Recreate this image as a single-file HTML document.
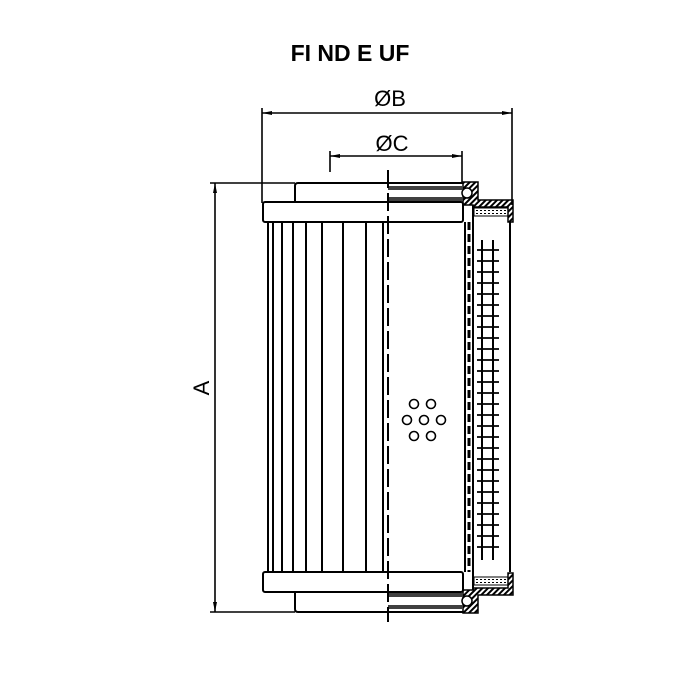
<!DOCTYPE html>
<html><head><meta charset="utf-8"><style>body{margin:0;background:#fff}svg{display:block}</style></head>
<body>
<svg width="700" height="700" viewBox="0 0 700 700" xmlns="http://www.w3.org/2000/svg">
<defs>
<pattern id="h" width="4" height="4" patternUnits="userSpaceOnUse" patternTransform="rotate(45)"><rect width="2" height="4" fill="#000"/></pattern>
<pattern id="d" width="4" height="3" patternUnits="userSpaceOnUse"><rect width="2" height="1" fill="#000"/></pattern>
</defs>
<text x="350" y="61" font-family="Liberation Sans, sans-serif" font-weight="bold" font-size="23" text-anchor="middle">FI ND E UF</text>
<g stroke="#000" fill="none" stroke-width="1.6">
<line x1="262" y1="113" x2="512" y2="113"/>
<line x1="262" y1="108" x2="262" y2="203"/>
<line x1="512" y1="108" x2="512" y2="205"/>
<line x1="330" y1="156" x2="462" y2="156"/>
<line x1="330" y1="151" x2="330" y2="172"/>
<line x1="462" y1="151" x2="462" y2="183"/>
<line x1="215" y1="183" x2="215" y2="612"/>
<line x1="210" y1="183" x2="295" y2="183"/>
<line x1="210" y1="612" x2="295" y2="612"/>
<line x1="388" y1="172" x2="388" y2="183"/>
</g>
<g fill="#000">
<polygon points="262,113 272,111 272,115"/><polygon points="512,113 502,111 502,115"/>
<polygon points="330,156 340,154 340,158"/><polygon points="462,156 452,154 452,158"/>
<polygon points="215,183 213,193 217,193"/><polygon points="215,612 213,602 217,602"/>
</g>
<text x="390" y="106" font-family="Liberation Sans, sans-serif" font-size="22" text-anchor="middle">ØB</text>
<text x="392" y="151" font-family="Liberation Sans, sans-serif" font-size="22" text-anchor="middle">ØC</text>
<text x="209" y="388" font-family="Liberation Sans, sans-serif" font-size="22" text-anchor="middle" transform="rotate(-90 209 388)">A</text>
<g stroke="#000" fill="none" stroke-width="2">
<path d="M295,202 V186 Q295,183 298,183 H463"/>
<rect x="263" y="202" width="200" height="20" rx="2"/>
<rect x="263" y="572" width="200" height="20" rx="2"/>
<path d="M295,592 V609 Q295,612 298,612 H463"/>
<g stroke-width="1.5">
<line x1="388" y1="187" x2="462" y2="187"/><line x1="388" y1="189" x2="462" y2="189"/>
<line x1="388" y1="198" x2="462" y2="198"/><line x1="388" y1="200" x2="462" y2="200"/>
<line x1="388" y1="594" x2="462" y2="594"/><line x1="388" y1="596" x2="462" y2="596"/>
<line x1="388" y1="606" x2="462" y2="606"/><line x1="388" y1="608" x2="462" y2="608"/>
</g>
<line x1="268" y1="222" x2="268" y2="572"/><line x1="273" y1="222" x2="273" y2="572"/>
<line x1="282" y1="222" x2="282" y2="572"/><line x1="293" y1="222" x2="293" y2="572"/>
<line x1="306" y1="222" x2="306" y2="572"/><line x1="322" y1="222" x2="322" y2="572"/>
<line x1="343" y1="222" x2="343" y2="572"/><line x1="366" y1="222" x2="366" y2="572"/>
<line x1="383" y1="222" x2="383" y2="572"/>
<line x1="388" y1="170" x2="388" y2="622" stroke-dasharray="18,5"/>
<line x1="465" y1="222" x2="465" y2="572"/>
<line x1="469" y1="222" x2="469" y2="572" stroke-dasharray="8,4" stroke-width="3"/>
<line x1="473" y1="205" x2="473" y2="590"/>
<line x1="510" y1="222" x2="510" y2="572"/>
<line x1="482" y1="240" x2="482" y2="560"/>
<line x1="493" y1="240" x2="493" y2="560"/>
</g>
<g stroke="#000" stroke-width="1.8">
<line x1="477" y1="250" x2="499" y2="250"/><line x1="477" y1="261" x2="499" y2="261"/><line x1="477" y1="272" x2="499" y2="272"/><line x1="477" y1="283" x2="499" y2="283"/><line x1="477" y1="294" x2="499" y2="294"/><line x1="477" y1="305" x2="499" y2="305"/><line x1="477" y1="316" x2="499" y2="316"/><line x1="477" y1="327" x2="499" y2="327"/><line x1="477" y1="338" x2="499" y2="338"/><line x1="477" y1="349" x2="499" y2="349"/><line x1="477" y1="360" x2="499" y2="360"/><line x1="477" y1="371" x2="499" y2="371"/><line x1="477" y1="382" x2="499" y2="382"/><line x1="477" y1="393" x2="499" y2="393"/><line x1="477" y1="404" x2="499" y2="404"/><line x1="477" y1="415" x2="499" y2="415"/><line x1="477" y1="426" x2="499" y2="426"/><line x1="477" y1="437" x2="499" y2="437"/><line x1="477" y1="448" x2="499" y2="448"/><line x1="477" y1="459" x2="499" y2="459"/><line x1="477" y1="470" x2="499" y2="470"/><line x1="477" y1="481" x2="499" y2="481"/><line x1="477" y1="492" x2="499" y2="492"/><line x1="477" y1="503" x2="499" y2="503"/><line x1="477" y1="514" x2="499" y2="514"/><line x1="477" y1="525" x2="499" y2="525"/><line x1="477" y1="536" x2="499" y2="536"/><line x1="477" y1="547" x2="499" y2="547"/>
</g>
<path d="M463,182 H478 V200 H513 V222 H508 V207 H473 V205 H463 Z" fill="url(#h)" stroke="#000" stroke-width="1.5"/>
<rect x="474" y="208" width="34" height="8" fill="url(#d)" stroke="#000" stroke-width="1"/>
<path d="M463,613 H478 V595 H513 V573 H508 V588 H473 V590 H463 Z" fill="url(#h)" stroke="#000" stroke-width="1.5"/>
<rect x="474" y="577" width="34" height="8" fill="url(#d)" stroke="#000" stroke-width="1"/>
<circle cx="467" cy="193" r="5" fill="#fff" stroke="#000" stroke-width="1.5"/>
<circle cx="467" cy="601" r="5" fill="#fff" stroke="#000" stroke-width="1.5"/>
<g fill="none" stroke="#000" stroke-width="1.6">
<circle cx="414" cy="404" r="4.5"/><circle cx="431" cy="404" r="4.5"/>
<circle cx="407" cy="420" r="4.5"/><circle cx="424" cy="420" r="4.5"/><circle cx="441" cy="420" r="4.5"/>
<circle cx="414" cy="436" r="4.5"/><circle cx="431" cy="436" r="4.5"/>
</g>
</svg>
</body></html>
